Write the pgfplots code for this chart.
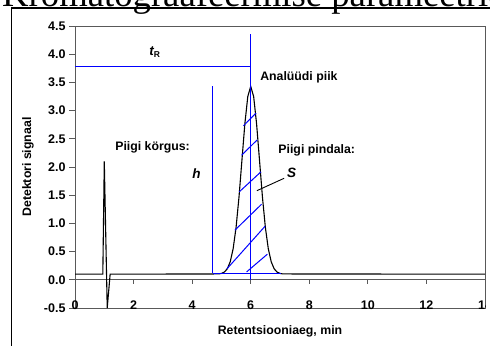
\documentclass[border=0pt]{standalone}
\usepackage{fontspec}
\setmainfont{Liberation Sans}
\newfontfamily\titlefont{Liberation Serif}
\usepackage{pgfplots}
\pgfplotsset{compat=1.18}
\definecolor{axgray}{gray}{0.35}
\definecolor{annblue}{RGB}{0,0,255}
\newcommand{\lab}{\fontsize{12.3bp}{14bp}\selectfont\bfseries}
\newcommand{\sym}{\fontsize{13.5bp}{15bp}\selectfont\bfseries\itshape}
\begin{document}
\begin{tikzpicture}[x=1bp,y=1bp]
\useasboundingbox (0,0) rectangle (490,345);
\clip (0,0) rectangle (490,345);
\node[anchor=base west, inner sep=0pt, font=\titlefont\fontsize{36.7bp}{40bp}\selectfont] at (2,338.5) {Kromatograafeermise parameetrid};
\draw[line width=1.3bp] (11.5,-2) -- (11.5,337) -- (492,337);
\begin{axis}[at={(75bp,37bp)}, anchor=south west, scale only axis,
  width=410bp, height=282bp,
  xmin=0, xmax=14, ymin=-0.5, ymax=4.5,
  axis line style={axgray, line width=1bp},
  xtick={0,2,4,6,8,10,12,14}, xticklabels={0,2,4,6,8,10,12,14},
  xtick style={draw=none},
  xticklabel style={anchor=center, yshift=9bp},
  ytick={-0.5,0,0.5,1,1.5,2,2.5,3,3.5,4,4.5},
  ytick pos=left, tick align=outside, major tick length=6bp,
  ytick style={axgray, line width=1bp},
  yticklabel style={/pgf/number format/.cd, fixed, fixed zerofill, precision=1},
  /pgf/number format/assume math mode=true,
  tick label style={font=\fontsize{12.5bp}{14bp}\selectfont\bfseries},
  xlabel={Retentsiooniaeg, min}, ylabel={Detektori signaal},
  label style={font=\lab},
  xlabel style={at={(axis description cs:0.5,-0.0816)}, anchor=center},
  ylabel style={at={(axis description cs:-0.1146,0.5)}, anchor=center},
  clip=false,
]
\draw[axgray, line width=1bp] (axis cs:0,0) -- (axis cs:14,0);
\pgfplotsinvokeforeach{2,4,6,8,10,12}{
  \draw[axgray, line width=1bp] (axis cs:#1,0) -- ++(0bp,-4bp);
}
% chromatogram
\addplot[black, line width=1.1bp] coordinates {
 (0,0.1) (0.95,0.1) (1.0,2.1) (1.1,-0.5) (1.2,0.1) (4.9,0.104)
 (5.0,0.113) (5.1,0.137) (5.2,0.195) (5.3,0.319) (5.4,0.551) (5.5,0.930)
 (5.6,1.469) (5.7,2.121) (5.8,2.767) (5.9,3.250) (6.0,3.430)
 (6.1,3.250) (6.2,2.767) (6.3,2.121) (6.4,1.469) (6.5,0.930) (6.6,0.551)
 (6.7,0.319) (6.8,0.195) (6.9,0.137) (7.0,0.113) (7.1,0.104) (14,0.1)
};
% retention time lines
\addplot[annblue, line width=1bp] coordinates {(6,0) (6,4.35)};
\addplot[annblue, line width=1bp] coordinates {(0,3.78) (6,3.78)};
% height line
\addplot[annblue, line width=1bp] coordinates {(4.7,0.12) (4.7,3.43)};
\addplot[annblue, line width=1bp] coordinates {(4.7,0.12) (7.05,0.12)};
% hatch
\addplot[annblue, line width=1bp] coordinates {(5.75,2.73) (6.18,2.955)};
\addplot[annblue, line width=1bp] coordinates {(5.69,2.21) (6.22,2.48)};
\addplot[annblue, line width=1bp] coordinates {(5.61,1.56) (6.35,1.915)};
\addplot[annblue, line width=1bp] coordinates {(5.46,0.88) (6.37,1.34)};
\addplot[annblue, line width=1bp] coordinates {(5.18,0.19) (6.49,0.95)};
\addplot[annblue, line width=1bp] coordinates {(5.86,0.14) (6.57,0.455)};
% S pointer
\addplot[black, line width=0.9bp] coordinates {(6.21,1.58) (7.14,1.80)};
% texts
\node[font=\sym] at (axis cs:2.72,4.04) {t\raisebox{-2bp}{\fontsize{8.5bp}{9bp}\selectfont\upshape R}};
\node[font=\lab, anchor=west, inner sep=0pt] at (axis cs:6.32,3.59) {Analüüdi piik};
\node[font=\lab, anchor=west, inner sep=0pt] at (axis cs:6.94,2.29) {Piigi pindala:};
\node[font=\lab, anchor=west, inner sep=0pt] at (axis cs:1.37,2.35) {Piigi körgus:};
\node[font=\sym] at (axis cs:7.40,1.89) {S};
\node[font=\sym] at (axis cs:4.15,1.89) {h};
\end{axis}
\fill[white] (486.3,20) rectangle (491,336);
\end{tikzpicture}
\end{document}
